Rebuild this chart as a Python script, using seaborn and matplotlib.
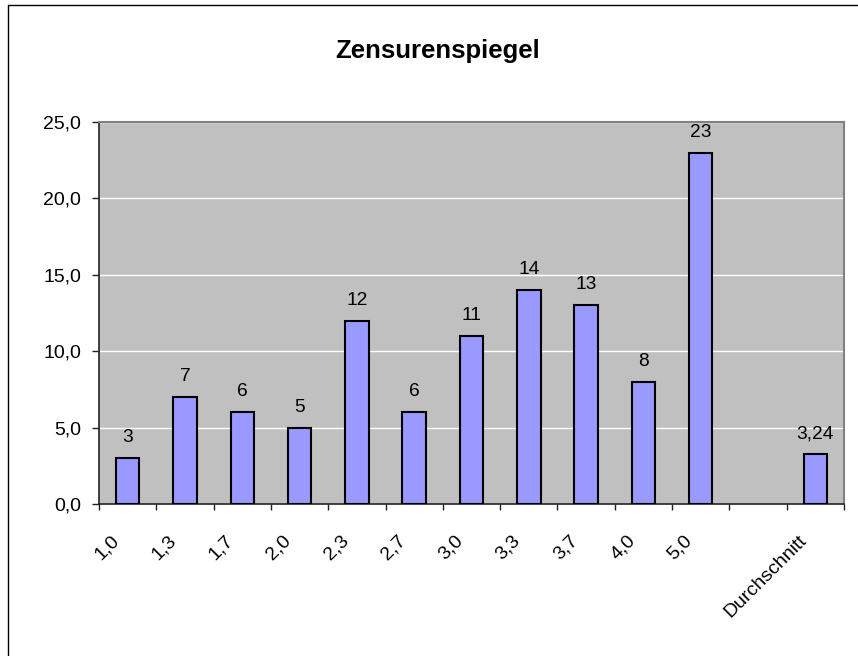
import matplotlib
matplotlib.use("Agg")
import matplotlib.pyplot as plt
import seaborn as sns
import pandas as pd
import numpy as np
from matplotlib.lines import Line2D
from matplotlib.transforms import ScaledTranslation

categories = ["1,0", "1,3", "1,7", "2,0", "2,3", "2,7", "3,0", "3,3", "3,7", "4,0", "5,0", "", "Durchschnitt"]
values = [3, 7, 6, 5, 12, 6, 11, 14, 13, 8, 23, np.nan, 3.24]
value_labels = ["3", "7", "6", "5", "12", "6", "11", "14", "13", "8", "23", "", "3,24"]
y_ticks = [0, 5, 10, 15, 20, 25]
y_tick_labels = ["0,0", "5,0", "10,0", "15,0", "20,0", "25,0"]
title = "Zensurenspiegel"

sns.set_style("white")
plt.rcParams['font.family'] = ['Liberation Sans', 'DejaVu Sans']
plt.rcParams['text.color'] = 'black'
plt.rcParams['xtick.color'] = 'black'
plt.rcParams['ytick.color'] = 'black'

keys = [f"c{i}" for i in range(len(categories))]
df = pd.DataFrame({"cat": keys, "val": values, "lab": value_labels})
df_plot = df.dropna(subset=["val"])

W, H = 858, 656
fig = plt.figure(figsize=(W / 100, H / 100), dpi=100)
left, right, top, bottom = 99, 844, 122, 504
ax = fig.add_axes([left / W, 1 - bottom / H, (right - left) / W, (bottom - top) / H])
ax.set_facecolor("#C0C0C0")

sns.barplot(data=df_plot, x="cat", y="val", order=keys, color="#9999FF", saturation=1,
            width=0.41, edgecolor="black", linewidth=1.5, ax=ax, errorbar=None, zorder=3)

ax.set_xlim(-0.5, len(categories) - 0.5)
ax.set_ylim(0, 25)
ax.set_yticks(y_ticks)
ax.set_yticklabels(y_tick_labels, fontsize=14)
ax.yaxis.grid(True, color="white", linewidth=1, zorder=0)
ax.set_axisbelow(True)

ax.set_xticks(range(len(categories)))
ax.set_xticklabels(categories, rotation=45, ha="right", va="baseline", rotation_mode="anchor", fontsize=14)
ax.tick_params(axis="x", which="major", length=0, pad=26.6)
ax.set_xticks(np.arange(-0.5, len(categories), 1.0), minor=True)
ax.tick_params(axis="x", which="minor", length=4.3, width=1, color="#222222", direction="out", bottom=True)
ax.tick_params(axis="y", length=5, width=1, color="#222222", direction="out", left=True, pad=8)

shift = ScaledTranslation(-8 / 100, 0, fig.dpi_scale_trans)
for lbl in ax.get_xticklabels():
    lbl.set_transform(lbl.get_transform() + shift)

for s in ["top", "right"]:
    ax.spines[s].set_color("#808080")
    ax.spines[s].set_linewidth(1.5)
for s in ["left", "bottom"]:
    ax.spines[s].set_color("#222222")
    ax.spines[s].set_linewidth(1.2)

ax.set_xlabel("")
ax.set_ylabel("")

bars = [b for b in ax.containers[0] if b is not None]
for b, lab in zip(bars, df_plot["lab"]):
    ax.annotate(lab, (b.get_x() + b.get_width() / 2, b.get_height()), xytext=(0, 11.5),
                textcoords="offset points", ha="center", va="baseline", fontsize=13.8)

fig.text(438 / W, 1 - 58.3 / H, title, ha="center", va="baseline",
         fontsize=18.5, fontweight="bold")

fig.lines.append(Line2D([8 / W, 1], [1 - 5 / H, 1 - 5 / H], transform=fig.transFigure, color="black", linewidth=1))
fig.lines.append(Line2D([8 / W, 8 / W], [0, 1 - 5 / H], transform=fig.transFigure, color="black", linewidth=1))

fig.savefig("out.png", dpi=100)
